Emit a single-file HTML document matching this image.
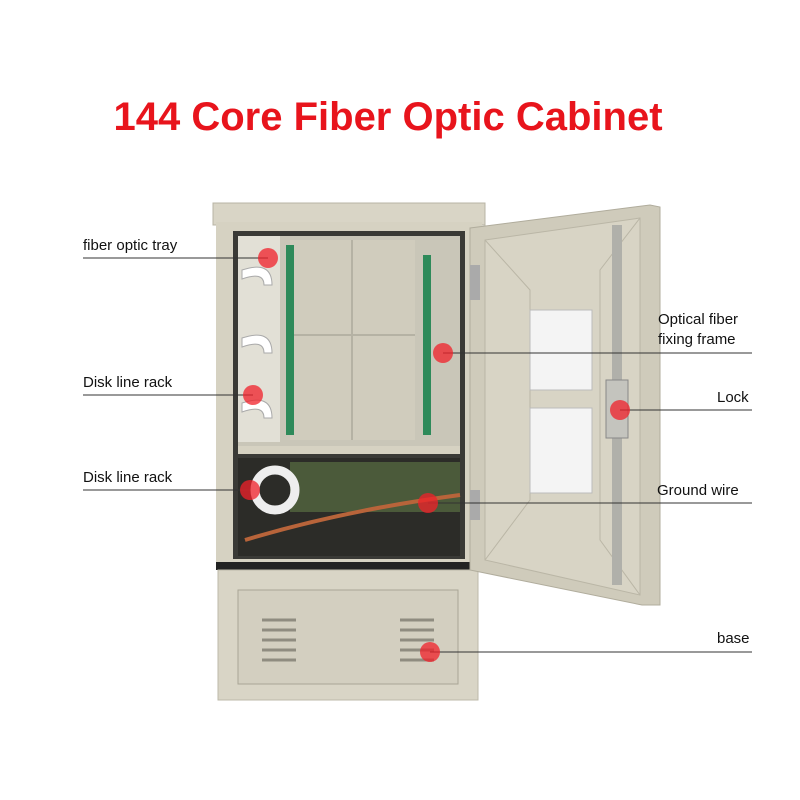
<!DOCTYPE html>
<html><head><meta charset="utf-8"><style>
html,body{margin:0;padding:0;background:#fff;}
body{width:800px;height:800px;position:relative;overflow:hidden;font-family:"Liberation Sans",sans-serif;}
.t{position:absolute;font-size:15px;color:#111;white-space:nowrap;}
</style></head><body>
<div style="position:absolute;left:0;top:95px;width:776px;text-align:center;font-size:40px;font-weight:bold;color:#e8141c;">144 Core Fiber Optic Cabinet</div>
<svg width="800" height="800" style="position:absolute;left:0;top:0">
<!-- upper body -->
<rect x="213" y="203" width="272" height="22" fill="#d9d5c6" stroke="#b8b4a4"/>
<rect x="216" y="222" width="266" height="345" fill="#d6d2c2"/>
<rect x="233" y="231" width="232" height="328" fill="#3a3a36"/>
<!-- upper panel -->
<rect x="238" y="236" width="222" height="210" fill="#c9c6b8"/>
<rect x="290" y="240" width="125" height="200" fill="#d0ccbd"/>
<line x1="352" y1="240" x2="352" y2="440" stroke="#b5b2a4" stroke-width="2"/>
<line x1="290" y1="335" x2="415" y2="335" stroke="#b5b2a4" stroke-width="2"/>
<rect x="286" y="245" width="8" height="190" fill="#2e8a5a"/>
<rect x="423" y="255" width="8" height="180" fill="#2e8a5a"/>
<rect x="238" y="236" width="42" height="206" fill="#e2e0d6"/>
<path d="M242 270 q30 -10 30 15 h-8 q0 -14 -22 -6z" fill="#fff" stroke="#aaa"/>
<path d="M242 338 q30 -10 30 15 h-8 q0 -14 -22 -6z" fill="#fff" stroke="#aaa"/>
<path d="M242 403 q30 -10 30 15 h-8 q0 -14 -22 -6z" fill="#fff" stroke="#aaa"/>
<rect x="238" y="446" width="222" height="8" fill="#d6d2c2"/>
<!-- lower section -->
<rect x="238" y="458" width="222" height="98" fill="#2c2c28"/>
<rect x="290" y="462" width="170" height="50" fill="#4b5a3a"/>
<circle cx="275" cy="490" r="20" fill="none" stroke="#eee" stroke-width="9"/>
<path d="M245 540 q100 -30 215 -45" stroke="#b8643a" stroke-width="4" fill="none"/>
<rect x="216" y="562" width="266" height="8" fill="#222"/>
<!-- base -->
<rect x="218" y="570" width="260" height="130" fill="#d9d5c6" stroke="#bdb9aa"/>
<rect x="238" y="590" width="220" height="94" fill="#d3cfc0" stroke="#a9a596"/>
<g stroke="#8f8c80" stroke-width="3">
<line x1="262" y1="620" x2="296" y2="620"/><line x1="262" y1="630" x2="296" y2="630"/><line x1="262" y1="640" x2="296" y2="640"/><line x1="262" y1="650" x2="296" y2="650"/><line x1="262" y1="660" x2="296" y2="660"/>
<line x1="400" y1="620" x2="434" y2="620"/><line x1="400" y1="630" x2="434" y2="630"/><line x1="400" y1="640" x2="434" y2="640"/><line x1="400" y1="650" x2="434" y2="650"/><line x1="400" y1="660" x2="434" y2="660"/>
</g>
<!-- door -->
<path d="M470 228 L650 205 L660 207 L660 605 L642 605 L470 570 Z" fill="#cfcbbb" stroke="#b0ac9c"/>
<path d="M485 240 L640 218 L640 595 L485 560 Z" fill="#d8d4c5" stroke="#bab6a6"/>
<path d="M485 240 L530 290 L530 500 L485 560 M640 218 L600 270 L600 540 L640 595" stroke="#bab6a6" fill="none"/>
<rect x="530" y="310" width="62" height="80" fill="#f4f4f4" stroke="#bbb"/>
<rect x="530" y="408" width="62" height="85" fill="#f4f4f4" stroke="#bbb"/>
<rect x="612" y="225" width="10" height="360" fill="#b0b0aa"/>
<rect x="606" y="380" width="22" height="58" fill="#c4c4be" stroke="#888"/>
<rect x="470" y="265" width="10" height="35" fill="#aaa"/>
<rect x="470" y="490" width="10" height="30" fill="#aaa"/>
<!-- leader lines -->
<g stroke="#333" stroke-width="1">
<line x1="83" y1="258" x2="268" y2="258"/>
<line x1="83" y1="395" x2="253" y2="395"/>
<line x1="83" y1="490" x2="250" y2="490"/>
<line x1="443" y1="353" x2="752" y2="353"/>
<line x1="620" y1="410" x2="752" y2="410"/>
<line x1="428" y1="503" x2="752" y2="503"/>
<line x1="430" y1="652" x2="752" y2="652"/>
</g>
<g fill="#f0202a" fill-opacity="0.75">
<circle cx="268" cy="258" r="10"/><circle cx="253" cy="395" r="10"/><circle cx="250" cy="490" r="10"/>
<circle cx="443" cy="353" r="10"/><circle cx="620" cy="410" r="10"/><circle cx="428" cy="503" r="10"/><circle cx="430" cy="652" r="10"/>
</g>
</svg>
<div class="t" style="left:83px;top:237px">fiber optic tray</div>
<div class="t" style="left:83px;top:374px">Disk line rack</div>
<div class="t" style="left:83px;top:469px">Disk line rack</div>
<div class="t" style="left:658px;top:311px">Optical fiber</div>
<div class="t" style="left:658px;top:331px">fixing frame</div>
<div class="t" style="left:717px;top:389px">Lock</div>
<div class="t" style="left:657px;top:482px">Ground wire</div>
<div class="t" style="left:717px;top:630px">base</div>
</body></html>
